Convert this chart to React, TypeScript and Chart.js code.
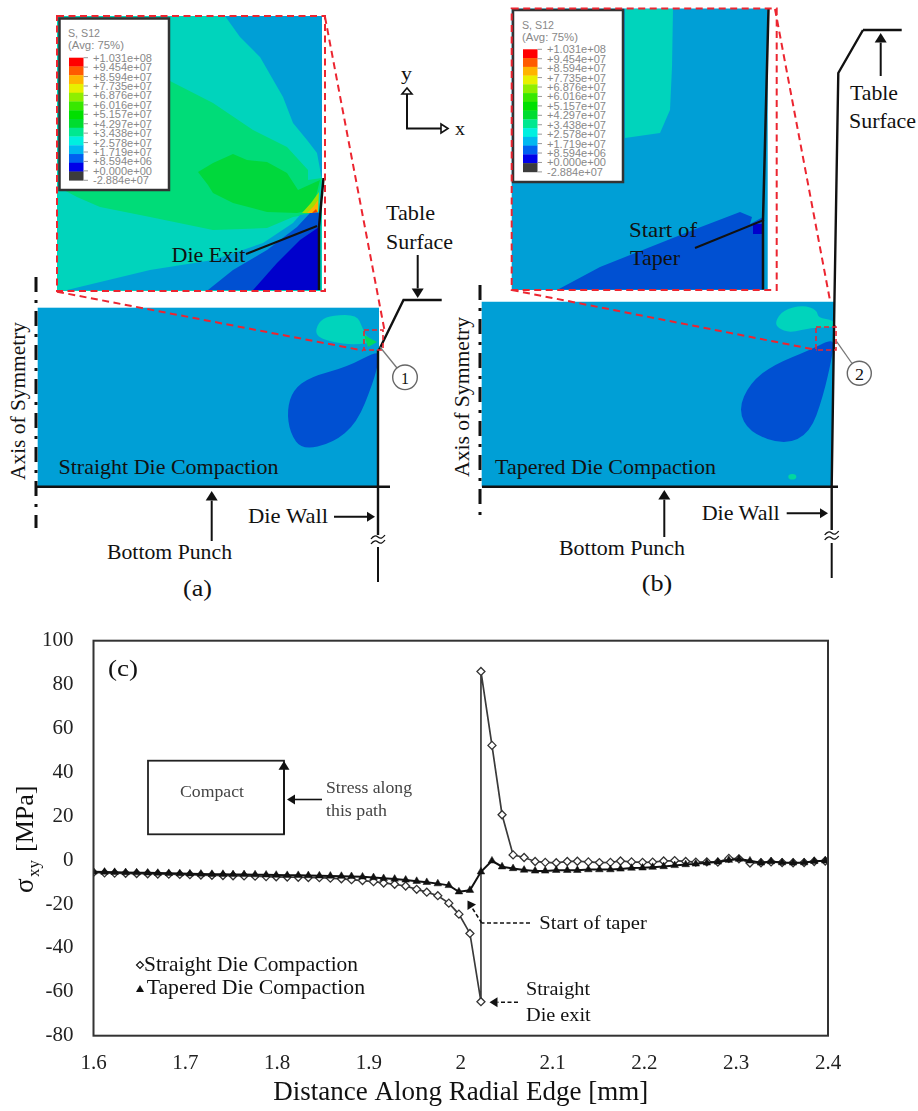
import React, { useEffect, useRef } from "react";
import { Chart, registerables } from "chart.js";

Chart.register(...registerables);

// ---------- chart data ----------
const radialX = [
  1.6, 1.612, 1.623, 1.635, 1.647, 1.659, 1.67, 1.682, 1.694, 1.705, 1.717, 1.729, 1.741, 1.752, 1.764, 1.776, 1.788,
  1.799, 1.811, 1.823, 1.834, 1.846, 1.858, 1.87, 1.881, 1.893, 1.905, 1.916, 1.928, 1.94, 1.952, 1.963, 1.975, 1.987,
  1.998, 2.01, 2.022, 2.034, 2.045, 2.057, 2.069, 2.081, 2.092, 2.104, 2.116, 2.127, 2.139, 2.151, 2.163, 2.174, 2.186,
  2.198, 2.209, 2.221, 2.233, 2.245, 2.256, 2.268, 2.28, 2.292, 2.303, 2.315, 2.327, 2.338, 2.35, 2.362, 2.374, 2.385,
  2.397,
];
const straightBeforeExit = [
  -5.6, -5.8, -5.9, -6.0, -6.1, -6.2, -6.3, -6.4, -6.5, -6.6, -6.8, -6.9, -7.0, -7.1, -7.2, -7.3, -7.5, -7.6, -7.7, -7.8,
  -7.9, -8.0, -8.2, -8.5, -8.9, -9.3, -9.8, -10.4, -11.0, -11.8, -13.3, -14.6, -16.2, -19.6, -24.6, -33.4, -64.5,
];
const straightPeak = 86;
const straightAfterExit = [
  52.3, 20.7, 2.4, 1.2, -0.6, -1.0, -1.2, -0.6, -0.5, -0.8, -1.1, -1.0, -0.4, -0.8, -1.0, -0.9, -0.4, -0.2, -0.6, -0.9,
  -0.8, -0.9, 0.8, 0.6, -1.3, -1.2, -0.8, -1.1, -1.2, -1.1, -0.6, -0.4,
];
const taperedValues = [
  -5.3, -5.4, -5.5, -5.6, -5.7, -5.8, -5.9, -6.0, -6.1, -6.2, -6.3, -6.4, -6.4, -6.5, -6.5, -6.6, -6.7, -6.8, -6.9, -6.9,
  -7.0, -7.1, -7.2, -7.3, -7.4, -7.6, -7.9, -8.3, -8.6, -9.0, -9.6, -10.1, -10.7, -11.5, -14.4, -13.7, -5.3, -0.3, -3.0,
  -3.8, -4.5, -4.9, -4.9, -4.6, -4.6, -4.6, -4.3, -4.3, -4.3, -4.0, -3.6, -3.5, -3.2, -2.9, -2.4, -2.0, -1.7, -1.2, -0.8,
  0.0, 0.5, -0.3, -1.2, -0.6, -1.1, -1.2, -1.1, -0.5, -0.3,
];
const straightLabel = "Straight Die Compaction";
const taperedLabel = "Tapered Die Compaction";

// ---------- contour legend ----------
const contourColors = [
  "#ff0000", "#ff5a00", "#ffb400", "#e8f000", "#90ee00", "#38e800", "#00e000", "#00dc30", "#00e890", "#00f0e0", "#00b8f0",
  "#0060f0", "#0000e8", "#3c3c3c",
];
const contourLabels = [
  "+1.031e+08", "+9.454e+07", "+8.594e+07", "+7.735e+07", "+6.876e+07", "+6.016e+07", "+5.157e+07", "+4.297e+07",
  "+3.438e+07", "+2.578e+07", "+1.719e+07", "+8.594e+06", "+0.000e+00", "-2.884e+07",
];

const SERIF = "'Liberation Serif','Times New Roman',serif";
const SANS = "'Liberation Sans',Arial,sans-serif";
const INK = "#111";
const BLUE = "#009fd6";
const TEAL = "#00d4bc";
const MID = "#0050d2";
const DEEP = "#0000cc";
const RED = "#ec2530";

type P = [number, number];
const poly = (pts: P[]) => pts.map((p) => p.join(",")).join(" ");
const smooth = (pts: P[]) => {
  const n = pts.length;
  const mid = (a: P, b: P): P => [(a[0] + b[0]) / 2, (a[1] + b[1]) / 2];
  const s = mid(pts[n - 1], pts[0]);
  let d = `M${s[0]},${s[1]}`;
  for (let i = 0; i < n; i++) {
    const m = mid(pts[i], pts[(i + 1) % n]);
    d += ` Q${pts[i][0]},${pts[i][1]} ${m[0]},${m[1]}`;
  }
  return d + "Z";
};

function T(props: { x: number; y: number; w: number; size?: number; children: string; rotate?: boolean; fill?: string; font?: string }) {
  const { x, y, w, size = 21, children, rotate, fill = INK, font = SERIF } = props;
  return (
    <text
      x={rotate ? 0 : x}
      y={rotate ? 0 : y}
      transform={rotate ? `translate(${x} ${y}) rotate(-90)` : undefined}
      textLength={w}
      lengthAdjust="spacingAndGlyphs"
      fontFamily={font}
      fontSize={size}
      fill={fill}
      textAnchor="start"
      dominantBaseline="central"
    >
      {children}
    </text>
  );
}

function Arrow({ x1, y1, x2, y2, w = 2, head = 6 }: { x1: number; y1: number; x2: number; y2: number; w?: number; head?: number }) {
  const a = Math.atan2(y2 - y1, x2 - x1);
  const bx = x2 - Math.cos(a) * head * 1.6;
  const by = y2 - Math.sin(a) * head * 1.6;
  const nx = -Math.sin(a) * head;
  const ny = Math.cos(a) * head;
  return (
    <g>
      <line x1={x1} y1={y1} x2={bx} y2={by} stroke={INK} strokeWidth={w} />
      <polygon points={poly([[x2, y2], [bx + nx, by + ny], [bx - nx, by - ny]])} fill={INK} />
    </g>
  );
}

function ContourLegend({ x, y, w, h, sx, sy }: { x: number; y: number; w: number; h: number; sx: number; sy: number }) {
  return (
    <g>
      <rect x={x} y={y} width={w} height={h} fill="#fff" stroke="#333" strokeWidth={2.5} />
      <T x={sx - 1} y={sy - 24} w={32} size={10} fill="#888" font={SANS}>S, S12</T>
      <T x={sx - 1} y={sy - 12} w={56} size={10} fill="#888" font={SANS}>(Avg: 75%)</T>
      {contourColors.map((c, i) => (
        <rect key={c} x={sx} y={sy + (i * 122.6) / 14} width={14.5} height={122.6 / 14 + 0.3} fill={c} />
      ))}
      {contourLabels.map((l, i) => (
        <g key={l}>
          <line x1={sx + 14.5} x2={sx + 19} y1={sy + i * 9.43} y2={sy + i * 9.43} stroke="#999" strokeWidth={1} />
          <T x={sx + 24} y={sy + i * 9.43} w={i === 13 ? 56 : 59} size={10.5} fill="#888" font={SANS}>{l}</T>
        </g>
      ))}
    </g>
  );
}

function Break({ x, y }: { x: number; y: number }) {
  const wave = (yy: number) => `M${x - 7},${yy + 2} q3.5,-5 7,-2 t7,-2`;
  return (
    <g fill="none" stroke={INK} strokeWidth={1.3}>
      <path d={wave(y - 3)} />
      <path d={wave(y + 2)} />
    </g>
  );
}

function Schematic() {
  const dash = { fill: "none", stroke: RED, strokeWidth: 2, strokeDasharray: "7 4.5" };
  const axisDash = { stroke: INK, strokeWidth: 3, strokeDasharray: "15 8 3 8" };
  return (
    <svg width={918} height={620} style={{ position: "absolute", left: 0, top: 0, display: "block" }}>
      {/* ---- panel (a) inset ---- */}
      <rect x={57} y={16} width={265} height={275} fill={TEAL} />
      <polygon fill={BLUE} points={poly([[225, 16], [240, 37], [260, 57], [283, 97], [293, 123], [307, 140], [317, 153], [322, 180], [322, 16]])} />
      <polygon fill="#00dc78" points={poly([[168, 80], [213, 103], [253, 130], [287, 147], [308, 170], [308, 180], [322, 178], [315, 213], [293, 217], [267, 228], [213, 230], [150, 217], [100, 207], [77, 197], [60, 188], [60, 80]])} />
      <polygon fill="#00d83c" points={poly([[198, 172], [213, 163], [233, 154], [247, 160], [267, 162], [287, 173], [298, 190], [320, 180], [315, 200], [310, 210], [297, 213], [267, 212], [233, 203], [213, 193], [208, 185]])} />
      <polygon fill="#a0e000" points={poly([[302, 213], [311, 203], [319, 192], [318, 213]])} />
      <polygon fill="#ffb000" points={poly([[307, 213], [314, 206], [318, 200], [318, 213]])} />
      <polygon fill="#f04000" points={poly([[312, 213], [316, 209], [318, 213]])} />
      <polygon fill={BLUE} points={poly([[67, 290], [150, 270], [213, 260], [263, 243], [293, 223], [300, 215], [319, 212], [319, 290]])} />
      <polygon fill={MID} points={poly([[208, 290], [233, 270], [267, 250], [297, 227], [310, 213], [319, 213], [319, 290]])} />
      <polygon fill={DEEP} points={poly([[253, 290], [277, 263], [300, 240], [319, 227], [319, 290]])} />
      <ContourLegend x={59.5} y={18.5} w={109.5} h={171.5} sx={69} sy={57.7} />
      <polyline points={poly([[319, 290], [319, 227], [323.5, 178]])} fill="none" stroke="#111" strokeWidth={2.5} />
      <line x1={246} y1={254} x2={317} y2={226} stroke="#111" strokeWidth={2} />
      <T x={171.5} y={255} w={74}>Die Exit</T>
      <rect x={57} y={16} width={268} height={275} {...dash} />
      <line x1={325} y1={17} x2={385} y2={333} {...dash} />

      {/* ---- axes triad ---- */}
      <polyline points="407,92 407,128.5 441,128.5" fill="none" stroke="#111" strokeWidth={2} />
      <polygon points="407,88 402,94 412,94" fill="#fff" stroke="#111" strokeWidth={1.6} />
      <polygon points="448,128.5 441,124 441,133" fill="#fff" stroke="#111" strokeWidth={1.6} />
      <T x={401} y={73} w={11} size={19}>y</T>
      <T x={455} y={128} w={10} size={19}>x</T>

      {/* ---- panel (a) part ---- */}
      <rect x={37.7} y={307.7} width={341.3} height={179} fill={BLUE} />
      <path fill={TEAL} d={smooth([[315, 332], [320, 320], [333, 315], [357, 315], [362, 327], [367, 338], [377, 342], [353, 345], [333, 342], [320, 338]])} />
      <polygon fill="#00dc60" points="364,335 377,342 368,347" />
      <path fill={MID} d={smooth([[379, 350], [347, 367], [310, 377], [293, 390], [287, 410], [290, 433], [302, 450], [333, 443], [357, 423], [373, 383], [379, 360]])} />
      <T x={58.5} y={467} w={220}>Straight Die Compaction</T>
      <line x1={36} y1={277} x2={36} y2={528} {...axisDash} />
      <line x1={36} y1={486.7} x2={390} y2={486.7} stroke="#111" strokeWidth={2.4} />
      <line x1={378} y1={350} x2={378} y2={535} stroke="#111" strokeWidth={2.4} />
      <line x1={378} y1={547} x2={378} y2={582} stroke="#111" strokeWidth={2} />
      <Break x={378} y={540} />
      <polyline points="379,350 403.5,300 441.7,300" fill="none" stroke="#111" strokeWidth={2.4} />
      <line x1={57} y1={291.7} x2={363} y2={350.5} {...dash} />
      <rect x={364} y={330} width={19} height={20} {...dash} strokeWidth={1.6} strokeDasharray="5 3" />
      <line x1={380} y1={347} x2={397} y2={368} stroke="#777" strokeWidth={1.3} />
      <circle cx={405} cy={377.3} r={12.3} fill="#fff" stroke="#666" strokeWidth={1.4} />
      <T x={401} y={378} w={8} size={17}>1</T>
      <T x={386} y={213} w={49}>Table</T>
      <T x={386} y={242} w={67}>Surface</T>
      <Arrow x1={417.7} y1={255} x2={417.7} y2={298} />
      <T x={18} y={480} w={158} rotate>Axis of Symmetry</T>
      <Arrow x1={211.7} y1={541} x2={211.7} y2={491} />
      <T x={248} y={516} w={80}>Die Wall</T>
      <Arrow x1={334} y1={516.7} x2={375} y2={516.7} head={5} />
      <T x={107} y={552} w={125}>Bottom Punch</T>
      <T x={183} y={588} w={29} size={24}>(a)</T>

      {/* ---- panel (b) inset ---- */}
      <rect x={511.7} y={8.5} width={256} height={281.5} fill={BLUE} />
      <polygon fill={TEAL} points={poly([[625, 9], [673, 9], [672, 67], [670, 110], [660, 133], [625, 138]])} />
      <polygon fill={MID} points={poly([[558, 289.5], [600, 267], [693, 230], [740, 212], [752, 217], [750, 224], [763, 217], [763, 289.5]])} />
      <rect x={753} y={224} width={10} height={10} fill={DEEP} />
      <ContourLegend x={513} y={10} w={110} h={172} sx={523} sy={49.3} />
      <polyline points="763,289.5 763,220 768.5,9" fill="none" stroke="#111" strokeWidth={2.5} />
      <line x1={695} y1={248} x2={764} y2={220} stroke="#111" strokeWidth={2} />
      <T x={629} y={230} w={68}>Start of</T>
      <T x={630} y={258} w={50}>Taper</T>
      <rect x={511.7} y={8.5} width={265} height={281.5} {...dash} />
      <line x1={775} y1={9} x2={835} y2={327} {...dash} />

      {/* ---- panel (b) part ---- */}
      <polygon fill={BLUE} points="481.7,301.7 834.5,301.7 832,486.7 481.7,486.7" />
      <path fill={TEAL} d={smooth([[775, 322], [783, 310], [803, 305], [817, 310], [818, 318], [834, 320], [834, 328], [813, 327], [790, 333], [778, 328]])} />
      <path fill={MID} d={smooth([[834, 338], [810, 350], [773, 365], [750, 383], [738, 410], [750, 433], [785, 445], [810, 433], [823, 397], [833, 353]])} />
      <ellipse cx={792.3} cy={476.7} rx={4} ry={2.8} fill="#00d8a0" />
      <T x={495} y={466.7} w={221}>Tapered Die Compaction</T>
      <line x1={480} y1={285} x2={480} y2={520} {...axisDash} />
      <line x1={482} y1={486.7} x2={838} y2={486.7} stroke="#111" strokeWidth={2.4} />
      <polyline points="863,30 838.3,73 834.3,310 831.7,486 831.7,530" fill="none" stroke="#111" strokeWidth={2.4} />
      <line x1={863} y1={30} x2={901.7} y2={30} stroke="#111" strokeWidth={2.4} />
      <line x1={831.7} y1={543} x2={831.7} y2={578} stroke="#111" strokeWidth={2} />
      <Break x={831.7} y={536} />
      <Arrow x1={880.7} y1={76} x2={880.7} y2={33} />
      <T x={850} y={93} w={48}>Table</T>
      <T x={849} y={121} w={67}>Surface</T>
      <line x1={511.7} y1={290} x2={817} y2={350} {...dash} />
      <rect x={816} y={327} width={20} height={23} {...dash} strokeWidth={1.6} strokeDasharray="5 3" />
      <line x1={836.7} y1={341.7} x2={851.7} y2={363} stroke="#777" strokeWidth={1.3} />
      <circle cx={859.3} cy={373.3} r={12} fill="#fff" stroke="#666" strokeWidth={1.4} />
      <T x={855} y={374} w={9} size={17}>2</T>
      <T x={461.7} y={477} w={160} rotate>Axis of Symmetry</T>
      <Arrow x1={664.3} y1={537} x2={664.3} y2={490} />
      <T x={701.7} y={513} w={78}>Die Wall</T>
      <Arrow x1={786.7} y1={513.3} x2={828} y2={513.3} head={5} />
      <T x={559} y={548} w={126}>Bottom Punch</T>
      <T x={641.7} y={583} w={30.5} size={24}>(b)</T>
    </svg>
  );
}

// page-y to canvas-y offset: the canvas starts at y=620 of the page
const Y0 = 620;

function fit(ctx: CanvasRenderingContext2D, text: string, x: number, y: number, w: number, size: number, color = INK) {
  ctx.save();
  ctx.font = `${size}px ${SERIF}`;
  ctx.fillStyle = color;
  ctx.textAlign = "left";
  ctx.textBaseline = "middle";
  const m = ctx.measureText(text).width;
  ctx.translate(x, y - Y0);
  ctx.scale(w / m, 1);
  ctx.fillText(text, 0, 0);
  ctx.restore();
}

function arrow(ctx: CanvasRenderingContext2D, x1: number, y1: number, x2: number, y2: number, dashed = false, head = 5.5, color = INK) {
  const a = Math.atan2(y2 - y1, x2 - x1);
  const bx = x2 - Math.cos(a) * head * 1.6;
  const by = y2 - Math.sin(a) * head * 1.6;
  ctx.save();
  ctx.strokeStyle = color;
  ctx.fillStyle = color;
  ctx.lineWidth = 1.6;
  ctx.setLineDash(dashed ? [4, 2.5] : []);
  ctx.beginPath();
  ctx.moveTo(x1, y1 - Y0);
  ctx.lineTo(bx, by - Y0);
  ctx.stroke();
  ctx.setLineDash([]);
  ctx.beginPath();
  ctx.moveTo(x2, y2 - Y0);
  ctx.lineTo(bx - Math.sin(a) * head, by + Math.cos(a) * head - Y0);
  ctx.lineTo(bx + Math.sin(a) * head, by - Math.cos(a) * head - Y0);
  ctx.closePath();
  ctx.fill();
  ctx.restore();
}

const annotations = {
  id: "annotations",
  afterDatasetsDraw(chart: any) {
    const ctx: CanvasRenderingContext2D = chart.ctx;
    const { left, right, top, bottom } = chart.chartArea;
    ctx.save();
    ctx.strokeStyle = "#333";
    ctx.lineWidth = 2;
    ctx.strokeRect(left, top, right - left, bottom - top);

    fit(ctx, "(c)", 108, 670, 30, 24);

    // Compact box
    ctx.strokeStyle = "#222";
    ctx.lineWidth = 1.8;
    ctx.strokeRect(148, 760.7 - Y0, 136, 73.6);
    arrow(ctx, 284, 834, 284, 761, false, 5.5);
    fit(ctx, "Compact", 180, 793, 64, 17, "#444");
    arrow(ctx, 322, 799.5, 287, 799.5, false, 5);
    fit(ctx, "Stress along", 326, 789, 86, 16.5, "#444");
    fit(ctx, "this path", 326, 811.5, 61, 16.5, "#444");

    // Annotations
    ctx.save();
    ctx.strokeStyle = INK;
    ctx.lineWidth = 1.6;
    ctx.setLineDash([4, 2.5]);
    ctx.beginPath();
    ctx.moveTo(530, 923 - Y0);
    ctx.lineTo(481.7, 923 - Y0);
    ctx.stroke();
    ctx.restore();
    arrow(ctx, 481.7, 923, 467.5, 900.5, true, 5);
    fit(ctx, "Start of taper", 539.3, 924, 107.5, 19);
    arrow(ctx, 518, 1002.3, 489.5, 1002.3, true, 5);
    fit(ctx, "Straight", 526, 990, 64, 19);
    fit(ctx, "Die exit", 526, 1016, 64.7, 19);

    // Legend
    ctx.fillStyle = "#fff";
    ctx.strokeStyle = INK;
    ctx.lineWidth = 1.2;
    ctx.beginPath();
    ctx.moveTo(140, 961.5 - Y0);
    ctx.lineTo(143.5, 965 - Y0);
    ctx.lineTo(140, 968.5 - Y0);
    ctx.lineTo(136.5, 965 - Y0);
    ctx.closePath();
    ctx.fill();
    ctx.stroke();
    fit(ctx, straightLabel, 144, 965, 214, 21);
    ctx.fillStyle = "#111";
    ctx.beginPath();
    ctx.moveTo(140, 985 - Y0);
    ctx.lineTo(144, 992 - Y0);
    ctx.lineTo(136, 992 - Y0);
    ctx.closePath();
    ctx.fill();
    fit(ctx, taperedLabel, 146.7, 988, 218.3, 21);

    // y-axis title with the subscript
    ctx.translate(33, 893 - Y0);
    ctx.rotate(-Math.PI / 2);
    ctx.fillStyle = INK;
    ctx.textBaseline = "alphabetic";
    ctx.textAlign = "left";
    ctx.font = `27px ${SERIF}`;
    ctx.fillText("σ", 0, 0);
    ctx.font = `17px ${SERIF}`;
    ctx.fillText("xy", 16, 6);
    ctx.font = `26px ${SERIF}`;
    ctx.fillText("[MPa]", 41, 0);
    ctx.restore();
  },
};

export default function App() {
  const ref = useRef<HTMLCanvasElement>(null);
  useEffect(() => {
    if (!ref.current) return;
    const straightX = [...radialX.slice(0, 37), radialX[36], ...radialX.slice(37)];
    const straightY = [...straightBeforeExit, straightPeak, ...straightAfterExit];
    const chart = new Chart(ref.current, {
      type: "line",
      data: {
        datasets: [
          {
            label: taperedLabel,
            order: 1,
            data: radialX.map((x, i) => ({ x, y: taperedValues[i] })),
            borderColor: "#111",
            borderWidth: 2,
            backgroundColor: "#111",
            pointStyle: "triangle",
            pointRadius: 4.4,
            pointBorderWidth: 0.5,
            tension: 0,
          },
          {
            label: straightLabel,
            order: 2,
            data: straightX.map((x, i) => ({ x, y: straightY[i] })),
            borderColor: "#3a3a3a",
            borderWidth: 1.7,
            backgroundColor: "#fff",
            pointStyle: "rectRot",
            pointRadius: 4,
            pointBorderWidth: 1.3,
            pointBorderColor: "#333",
            tension: 0,
          },
        ],
      },
      options: {
        animation: false,
        responsive: false,
        parsing: false,
        layout: { padding: { left: 0, right: 90, top: 20.7, bottom: 0 } },
        plugins: { legend: { display: false }, tooltip: { enabled: false } },
        scales: {
          x: {
            type: "linear",
            min: 1.6,
            max: 2.4,
            grid: { display: false, drawTicks: false },
            border: { display: false },
            afterFit: (s: any) => {
              s.height = 75.3;
              s.paddingLeft = 0;
              s.paddingRight = 0;
            },
            ticks: {
              stepSize: 0.1,
              padding: 15,
              maxRotation: 0,
              color: "#222",
              font: { family: SERIF, size: 21 },
              callback: (v: any) => String(Number(Number(v).toFixed(1))),
            },
            title: {
              display: true,
              text: "Distance Along Radial Edge [mm]",
              color: "#111",
              font: { family: SERIF, size: 27 },
              padding: { top: 0, bottom: 2 },
            },
          },
          y: {
            min: -80,
            max: 100,
            grid: { display: false, drawTicks: false },
            border: { display: false },
            afterFit: (s: any) => {
              s.width = 93.5;
              s.paddingTop = 0;
              s.paddingBottom = 0;
            },
            ticks: { stepSize: 20, padding: 20, color: "#222", font: { family: SERIF, size: 21 } },
          },
        },
      },
      plugins: [annotations],
    } as any);
    return () => chart.destroy();
  }, []);
  return (
    <div style={{ position: "absolute", left: 0, top: 0, width: 918, height: 1111, overflow: "hidden", background: "#fff", filter: "blur(0.5px)" }}>
      <Schematic />
      <canvas ref={ref} width={918} height={491} style={{ position: "absolute", left: 0, top: 620, width: 918, height: 491 }} />
    </div>
  );
}
